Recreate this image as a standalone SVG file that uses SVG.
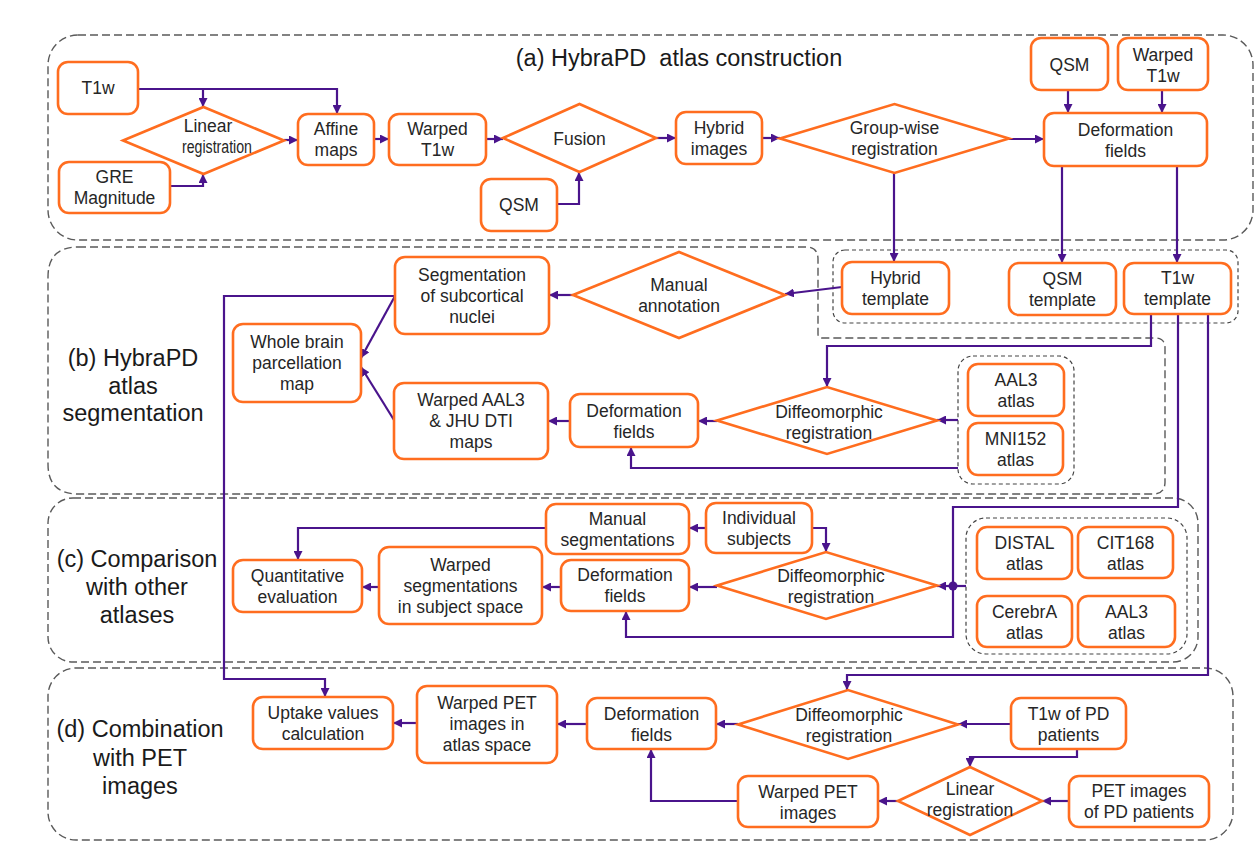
<svg xmlns="http://www.w3.org/2000/svg" width="1259" height="855" viewBox="0 0 1259 855">
<defs>
<style>
.sec{fill:none;stroke:#5a5a5a;stroke-width:1.4;stroke-dasharray:8 4}
.grp{fill:none;stroke:#444;stroke-width:1.2;stroke-dasharray:4 3}
.n{fill:#fff;stroke:#FF6D1F;stroke-width:2.6}
.t{font-family:"Liberation Sans",Arial,sans-serif;font-size:17.5px;fill:#262626;text-anchor:middle}
.lab{font-family:"Liberation Sans",Arial,sans-serif;font-size:23.5px;fill:#1a1a1a;text-anchor:middle}
.c path{fill:none;stroke:#4A148C;stroke-width:2.2}
.c path.a{marker-end:url(#ah)}
</style>
<marker id="ah" viewBox="0 0 10 10" refX="10" refY="5" markerWidth="9" markerHeight="9" markerUnits="userSpaceOnUse" orient="auto">
<path d="M0,0 L10,5 L0,10 z" fill="#4A148C"/>
</marker>
</defs>
<rect width="1259" height="855" fill="#fff"/>

<g id="sections">
<rect class="sec" x="48" y="35" width="1205" height="205" rx="30"/>
<path class="sec" d="M78,247 H806 Q818,247 818,259 V334 Q818,338 822,338 H1155 Q1165,338 1165,348 V482 Q1165,494 1153,494 H78 Q48,494 48,464 V277 Q48,247 78,247 Z"/>
<rect class="sec" x="48" y="498" width="1150" height="164" rx="25"/>
<rect class="sec" x="48" y="668" width="1185" height="172" rx="28"/>
<rect class="grp" x="833" y="250" width="405" height="73" rx="12"/>
<rect class="grp" x="958" y="356" width="116" height="128" rx="15"/>
<rect class="grp" x="966" y="518" width="221" height="136" rx="20"/>
<text class="lab" x="679" y="66">(a) HybraPD&#160; atlas construction</text>
<text class="lab" x="133" y="366">(b) HybraPD</text>
<text class="lab" x="133" y="394">atlas</text>
<text class="lab" x="133" y="421">segmentation</text>
<text class="lab" x="137" y="567">(c) Comparison</text>
<text class="lab" x="137" y="595">with other</text>
<text class="lab" x="137" y="623">atlases</text>
<text class="lab" x="140" y="737">(d) Combination</text>
<text class="lab" x="140" y="766">with PET</text>
<text class="lab" x="140" y="794">images</text>
</g>

<g id="connectors" class="c">
<path class="a" d="M138,89 H337 V114"/>
<path class="a" d="M203,89 V107"/>
<path class="a" d="M170,186 H203 V174"/>
<path class="a" d="M284,140 H298"/>
<path class="a" d="M374,139 H389"/>
<path class="a" d="M486,139 H503"/>
<path class="a" d="M557,204 H579 V172"/>
<path class="a" d="M656,138 H676"/>
<path class="a" d="M762,138 H780"/>
<path class="a" d="M1009,139 H1044"/>
<path class="a" d="M1068,90 V113"/>
<path class="a" d="M1162,90 V113"/>
<path class="a" d="M894,173 V262"/>
<path class="a" d="M1062,166 V263"/>
<path class="a" d="M1177,166 V263"/>
<path class="a" d="M842,287 L785,294"/>
<path class="a" d="M573,295 H549"/>
<path class="a" d="M395,296 L361,358"/>
<path class="a" d="M394,420 L361,367"/>
<path class="a" d="M395,296 H224 V679 H325 V697"/>
<path class="a" d="M717,421 H698"/>
<path class="a" d="M570,421 H548"/>
<path class="a" d="M1151,314 V346 H827 V387"/>
<path class="a" d="M958,420 H937"/>
<path class="a" d="M958,468 H631 V447"/>
<path class="a" d="M1178,314 V507 H953 V637 H626 V611"/>
<path class="a" d="M966,586 H937"/>
<circle cx="953" cy="586" r="4.5" fill="#4A148C"/>
<path class="a" d="M706,528 H689"/>
<path class="a" d="M546,528 H298 V560"/>
<path class="a" d="M812,528 H826 V552"/>
<path class="a" d="M717,587 H689"/>
<path class="a" d="M561,587 H542"/>
<path class="a" d="M379,587 H362"/>
<path class="a" d="M1208,314 V675 H847 V690"/>
<path class="a" d="M1011,724 H958"/>
<path class="a" d="M738,724 H716"/>
<path class="a" d="M587,724 H557"/>
<path class="a" d="M417,723 H393"/>
<path class="a" d="M1077,749 V757 H970 V767"/>
<path class="a" d="M1069,801 H1042"/>
<path class="a" d="M898,801 H878"/>
<path class="a" d="M738,801 H651 V749"/>
</g>

<g id="n_t1w"><rect class="n" x="58" y="62" width="80" height="52" rx="10"/><text class="t" x="98" y="94">T1w</text></g>
<g id="n_gre"><rect class="n" x="59" y="162" width="111" height="51" rx="10"/><text class="t" x="114.5" y="183">GRE</text><text class="t" x="114.5" y="204">Magnitude</text></g>
<g id="n_linreg_a"><polygon class="n" points="123,140.5 203.5,107 284,140.5 203.5,174"/><text class="t" x="208" y="132">Linear</text><text class="t" x="217" y="153" textLength="70" lengthAdjust="spacingAndGlyphs">registration</text></g>
<g id="n_affine"><rect class="n" x="298" y="114" width="76" height="51" rx="10"/><text class="t" x="336" y="135">Affine</text><text class="t" x="336" y="156">maps</text></g>
<g id="n_warped_t1w"><rect class="n" x="389" y="114" width="97" height="51" rx="10"/><text class="t" x="437.5" y="135">Warped</text><text class="t" x="437.5" y="156">T1w</text></g>
<g id="n_fusion"><polygon class="n" points="503,138 579.5,104 656,138 579.5,172"/><text class="t" x="579.5" y="145">Fusion</text></g>
<g id="n_qsm_a"><rect class="n" x="481" y="179" width="76" height="52" rx="10"/><text class="t" x="519" y="211">QSM</text></g>
<g id="n_hybrid"><rect class="n" x="676" y="112" width="86" height="52" rx="10"/><text class="t" x="719" y="134">Hybrid</text><text class="t" x="719" y="155">images</text></g>
<g id="n_groupwise"><polygon class="n" points="780,138.5 894.5,104 1009,138.5 894.5,173"/><text class="t" x="894.5" y="134">Group-wise</text><text class="t" x="894.5" y="155">registration</text></g>
<g id="n_qsm_top"><rect class="n" x="1031" y="38" width="77" height="52" rx="10"/><text class="t" x="1069.5" y="71">QSM</text></g>
<g id="n_warped_t1w_top"><rect class="n" x="1118" y="38" width="90" height="52" rx="10"/><text class="t" x="1163" y="61">Warped</text><text class="t" x="1163" y="82">T1w</text></g>
<g id="n_def_a"><rect class="n" x="1044" y="113" width="163" height="53" rx="10"/><text class="t" x="1125.5" y="136">Deformation</text><text class="t" x="1125.5" y="157">fields</text></g>
<g id="n_hybrid_tpl"><rect class="n" x="842" y="262" width="107" height="52" rx="10"/><text class="t" x="895.5" y="284">Hybrid</text><text class="t" x="895.5" y="305">template</text></g>
<g id="n_qsm_tpl"><rect class="n" x="1009" y="263" width="107" height="52" rx="10"/><text class="t" x="1062.5" y="285">QSM</text><text class="t" x="1062.5" y="306">template</text></g>
<g id="n_t1w_tpl"><rect class="n" x="1124" y="263" width="107" height="51" rx="10"/><text class="t" x="1177.5" y="284">T1w</text><text class="t" x="1177.5" y="305">template</text></g>

<g id="n_seg"><rect class="n" x="395" y="257" width="154" height="77" rx="10"/><text class="t" x="472" y="281">Segmentation</text><text class="t" x="472" y="302">of subcortical</text><text class="t" x="472" y="323">nuclei</text></g>
<g id="n_manual_ann"><polygon class="n" points="573,295 679,252 785,295 679,338"/><text class="t" x="679" y="290.5">Manual</text><text class="t" x="679" y="311.5">annotation</text></g>
<g id="n_whole"><rect class="n" x="233" y="324" width="128" height="78" rx="10"/><text class="t" x="297" y="348">Whole brain</text><text class="t" x="297" y="369">parcellation</text><text class="t" x="297" y="390">map</text></g>
<g id="n_warped_aal3"><rect class="n" x="394" y="383" width="154" height="76" rx="10"/><text class="t" x="471" y="406">Warped AAL3</text><text class="t" x="471" y="427">&amp; JHU DTI</text><text class="t" x="471" y="448">maps</text></g>
<g id="n_def_b"><rect class="n" x="570" y="394" width="128" height="53" rx="10"/><text class="t" x="634" y="416.5">Deformation</text><text class="t" x="634" y="437.5">fields</text></g>
<g id="n_diffeo_b"><polygon class="n" points="717,420.5 827,387 937,420.5 827,454"/><text class="t" x="829" y="418">Diffeomorphic</text><text class="t" x="829" y="439">registration</text></g>
<g id="n_aal3_b"><rect class="n" x="968" y="364" width="96" height="52" rx="10"/><text class="t" x="1016" y="386">AAL3</text><text class="t" x="1016" y="407">atlas</text></g>
<g id="n_mni"><rect class="n" x="968" y="423" width="95" height="52" rx="10"/><text class="t" x="1015.5" y="445">MNI152</text><text class="t" x="1015.5" y="466">atlas</text></g>

<g id="n_manual_seg"><rect class="n" x="546" y="504" width="143" height="50" rx="10"/><text class="t" x="617.5" y="525">Manual</text><text class="t" x="617.5" y="546">segmentations</text></g>
<g id="n_indiv"><rect class="n" x="706" y="503" width="106" height="50" rx="10"/><text class="t" x="759" y="524">Individual</text><text class="t" x="759" y="545">subjects</text></g>
<g id="n_diffeo_c"><polygon class="n" points="717,585.5 826,552 937,585.5 826,619"/><text class="t" x="831" y="581.5">Diffeomorphic</text><text class="t" x="831" y="602.5">registration</text></g>
<g id="n_def_c"><rect class="n" x="561" y="560" width="128" height="51" rx="10"/><text class="t" x="625" y="581">Deformation</text><text class="t" x="625" y="602">fields</text></g>
<g id="n_warped_seg"><rect class="n" x="379" y="547" width="163" height="77" rx="10"/><text class="t" x="460.5" y="571">Warped</text><text class="t" x="460.5" y="592">segmentations</text><text class="t" x="460.5" y="613">in subject space</text></g>
<g id="n_quant"><rect class="n" x="233" y="560" width="129" height="52" rx="10"/><text class="t" x="297.5" y="582">Quantitative</text><text class="t" x="297.5" y="603">evaluation</text></g>
<g id="n_distal"><rect class="n" x="977" y="527" width="95" height="52" rx="10"/><text class="t" x="1024.5" y="549">DISTAL</text><text class="t" x="1024.5" y="570">atlas</text></g>
<g id="n_cit"><rect class="n" x="1078" y="527" width="95" height="51" rx="10"/><text class="t" x="1125.5" y="548.5">CIT168</text><text class="t" x="1125.5" y="569.5">atlas</text></g>
<g id="n_cerebra"><rect class="n" x="977" y="596" width="95" height="51" rx="10"/><text class="t" x="1024.5" y="617.5">CerebrA</text><text class="t" x="1024.5" y="638.5">atlas</text></g>
<g id="n_aal3_c"><rect class="n" x="1078" y="596" width="97" height="51" rx="10"/><text class="t" x="1126.5" y="617.5">AAL3</text><text class="t" x="1126.5" y="638.5">atlas</text></g>

<g id="n_uptake"><rect class="n" x="253" y="697" width="140" height="52" rx="10"/><text class="t" x="323" y="719">Uptake values</text><text class="t" x="323" y="740">calculation</text></g>
<g id="n_warped_pet_atlas"><rect class="n" x="417" y="686" width="140" height="77" rx="10"/><text class="t" x="487" y="709">Warped PET</text><text class="t" x="487" y="730">images in</text><text class="t" x="487" y="751">atlas space</text></g>
<g id="n_def_d"><rect class="n" x="587" y="698" width="129" height="51" rx="10"/><text class="t" x="651.5" y="719.5">Deformation</text><text class="t" x="651.5" y="740.5">fields</text></g>
<g id="n_diffeo_d"><polygon class="n" points="738,724.5 848,690 958,724.5 848,759"/><text class="t" x="849" y="721">Diffeomorphic</text><text class="t" x="849" y="742">registration</text></g>
<g id="n_t1w_pd"><rect class="n" x="1011" y="698" width="115" height="51" rx="10"/><text class="t" x="1068.5" y="720">T1w of PD</text><text class="t" x="1068.5" y="741">patients</text></g>
<g id="n_linreg_d"><polygon class="n" points="898,801 970,767 1042,801 970,835"/><text class="t" x="970" y="795">Linear</text><text class="t" x="970" y="816">registration</text></g>
<g id="n_pet_pd"><rect class="n" x="1069" y="776" width="140" height="51" rx="10"/><text class="t" x="1139" y="797">PET images</text><text class="t" x="1139" y="818">of PD patients</text></g>
<g id="n_warped_pet"><rect class="n" x="738" y="776" width="140" height="51" rx="10"/><text class="t" x="808" y="797.5">Warped PET</text><text class="t" x="808" y="818.5">images</text></g>
</svg>
